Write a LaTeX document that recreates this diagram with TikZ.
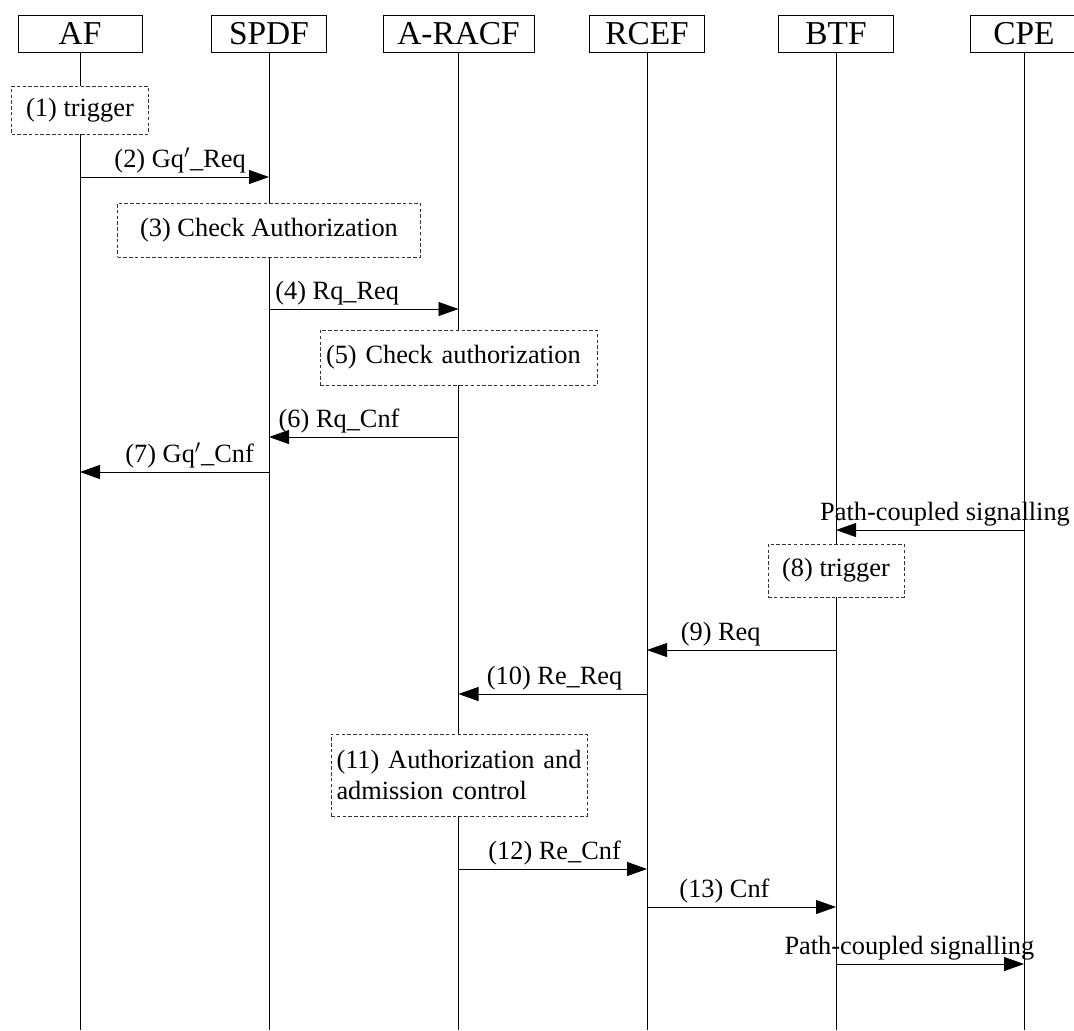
\documentclass[tikz,border=0pt]{standalone}
\usepackage{fontspec}
\setmainfont{Liberation Serif}
\usetikzlibrary{arrows.meta, positioning}

\begin{document}
\begin{tikzpicture}[
    ent/.style={rectangle, draw, line width=0.5pt, minimum height=0.74cm,
                inner sep=0pt, font=\fontsize{19}{22}\selectfont},
    act/.style={rectangle, draw=black!80, dash pattern=on 2pt off 1.3pt,
                fill=white, line width=0.5pt, inner sep=0pt,
                font=\fontsize{15}{18}\selectfont},
    msg/.style={-{Triangle[length=0.4cm, width=0.28cm]}, line width=0.5pt},
    lbl/.style={above, inner sep=2pt, font=\fontsize{15}{18}\selectfont}
  ]
  \useasboundingbox (0,0) rectangle (21.48,-20.6);

  % Entities
  \node[ent, minimum width=2.48cm] (af)   at ( 1.60,-0.67) {AF};
  \node[ent, minimum width=2.30cm] (spdf) at ( 5.38,-0.67) {SPDF};
  \node[ent, minimum width=3.02cm] (racf) at ( 9.17,-0.67) {A-RACF};
  \node[ent, minimum width=2.30cm] (rcef) at (12.94,-0.67) {RCEF};
  \node[ent, minimum width=2.30cm] (btf)  at (16.72,-0.67) {BTF};
  \node[ent, minimum width=2.14cm] (cpe)  at (20.48,-0.67) {CPE};

  % Lifelines
  \foreach \e in {af,spdf,racf,rcef,btf,cpe}
    \draw[line width=0.5pt] (\e.south) -- (\e.south |- 0,-20.6);

  % Local actions
  \node[act, minimum width=2.74cm, minimum height=0.96cm] (trig1) at ( 1.60,-2.20) {(1) trigger};
  \node[act, minimum width=6.06cm, minimum height=1.08cm] (chk1)  at ( 5.38,-4.60) {(3) Check Authorization};
  \node[act, text width=5.30cm, inner xsep=0.12cm, align=left,
        minimum height=1.10cm] (chk2) at ( 9.17,-7.15) {(5) Check authorization};
  \node[act, minimum width=2.72cm, minimum height=1.06cm] (trig2) at (16.72,-11.41) {(8) trigger};
  \node[act, text width=4.90cm, inner xsep=0.11cm, align=left,
        minimum height=1.64cm] (adm)  at ( 9.18,-15.50)
        {(11) Authorization and\\admission control};

  % Messages
  \draw[msg] (af   |- 0,-3.54)  -- node[lbl, pos=0.53] {(2) Gq$'$\_Req}  (spdf |- 0,-3.54);
  \draw[msg] (spdf |- 0,-6.18)  -- node[lbl, pos=0.36] {(4) Rq\_Req}     (racf |- 0,-6.18);
  \draw[msg] (racf |- 0,-8.74)  -- node[lbl, pos=0.63] {(6) Rq\_Cnf}     (spdf |- 0,-8.74);
  \draw[msg] (spdf |- 0,-9.44)  -- node[lbl, pos=0.42] {(7) Gq$'$\_Cnf}  (af   |- 0,-9.44);
  \draw[msg] (cpe  |- 0,-10.60) -- node[lbl, pos=0.42] {Path-coupled signalling} (btf |- 0,-10.60);
  \draw[msg] (btf  |- 0,-13.00) -- node[lbl, pos=0.61] {(9) Req}         (rcef |- 0,-13.00);
  \draw[msg] (rcef |- 0,-13.88) -- node[lbl, pos=0.49] {(10) Re\_Req}    (racf |- 0,-13.88);
  \draw[msg] (racf |- 0,-17.38) -- node[lbl, pos=0.51] {(12) Re\_Cnf}    (rcef |- 0,-17.38);
  \draw[msg] (rcef |- 0,-18.14) -- node[lbl, pos=0.41] {(13) Cnf}        (btf  |- 0,-18.14);
  \draw[msg] (btf  |- 0,-19.28) -- node[lbl, pos=0.39] {Path-coupled signalling} (cpe |- 0,-19.28);
\end{tikzpicture}
\end{document}
